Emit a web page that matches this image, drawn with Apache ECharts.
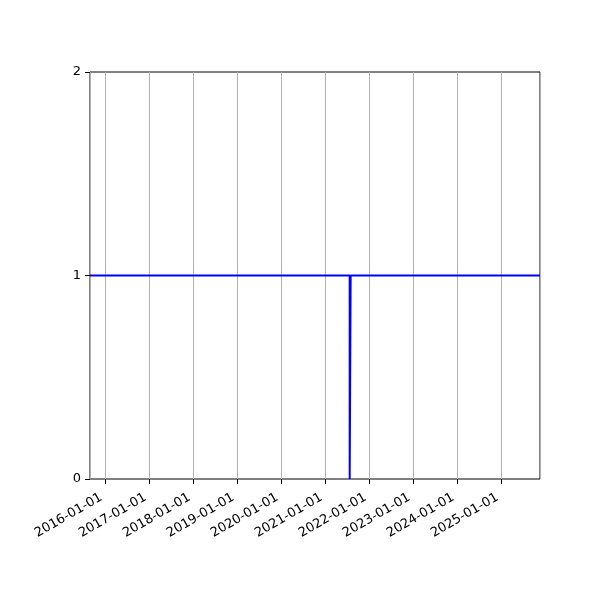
<!DOCTYPE html>
<html>
<head>
	<meta charset="UTF-8">
	<title>line</title>
	<script src="https://cdn.jsdelivr.net/npm/echarts@6/dist/echarts.min.js"></script>
	<style>
		html, body { margin: 0; padding: 0; background: #fff; }
	</style>
</head>
<body>
	<div id="chart1" style="width: 600px;height: 600px;"></div>
</body>
</html>
<script type="text/javascript">
	// data
	var dates = ['2015-08-24', '2021-07-19', '2021-07-19', '2021-07-27', '2021-07-27', '2025-11-15'];
	var values = [1, 1, 0, 0, 1, 1];
	var yTicks = [0, 1, 2];

	var xMin = '2015-08-24';
	var xMax = '2025-11-15';

	var points = dates.map(function (d, i) { return [d, values[i]]; });

	var chart1 = echarts.init(document.getElementById('chart1'));
	var DAY = 24 * 3600 * 1000;

	option = {
		animation: false,
		textStyle: { fontFamily: 'DejaVu Sans' },
		grid: {
			left: 90, right: 60, top: 72, bottom: 121,
			show: true, borderColor: '#000', borderWidth: 1, backgroundColor: 'transparent'
		},
		xAxis: {
			type: 'time',
			min: xMin,
			max: xMax,
			minInterval: 365 * DAY,
			maxInterval: 366 * DAY,
			axisLine: { show: false },
			axisTick: { show: true, length: 5, lineStyle: { color: '#000' } },
			splitLine: { show: true, lineStyle: { color: '#b0b0b0', width: 1 } },
			axisLabel: {
				rotate: 30,
				color: '#000',
				fontSize: 13,
				margin: 15,
				padding: [0, 5, 0, 0],
				showMinLabel: false,
				showMaxLabel: false,
				formatter: '{yyyy}-{MM}-{dd}'
			}
		},
		yAxis: {
			type: 'value',
			min: yTicks[0],
			max: yTicks[yTicks.length - 1],
			interval: 1,
			axisLine: { show: false },
			axisTick: { show: true, length: 5, lineStyle: { color: '#000' } },
			splitLine: { show: false },
			axisLabel: { color: '#000', fontSize: 13, margin: 9 }
		},
		series: [{
			type: 'line',
			data: points,
			showSymbol: false,
			symbol: 'none',
			lineStyle: { color: '#0000ff', width: 2 }
		}]
	};

	chart1.setOption(option);
</script>
